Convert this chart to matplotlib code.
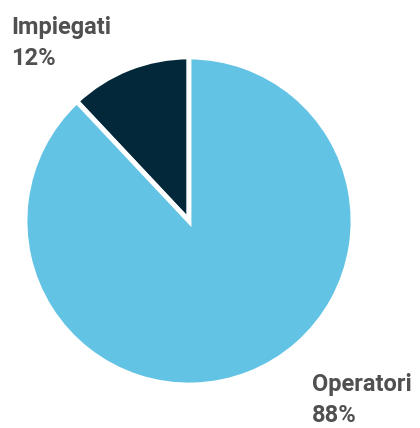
import matplotlib.pyplot as plt

labels = ["Impiegati", "Operatori"]
values = [12, 88]
colors = ["#022839", "#63c3e5"]

fig = plt.figure(figsize=(4.2, 4.28), dpi=100)
ax = fig.add_axes([0, 0, 1, 1])
ax.set_xlim(0, 420)
ax.set_ylim(0, 428)
ax.set_aspect("equal")
ax.axis("off")

ax.pie(values, colors=colors, startangle=90, counterclock=True,
       center=(189, 207), radius=164, explode=[0.075, 0],
       wedgeprops=dict(edgecolor="white", linewidth=3.5))
ax.set_xlim(0, 420)
ax.set_ylim(0, 428)

txt = dict(fontsize=17, fontweight="bold", color="#505050", family="Roboto",
           ha="left", va="top", linespacing=1.42)
ax.text(11, 428 - 16, f"{labels[0]}\n{values[0]}%", **txt)
ax.text(312, 428 - 373, f"{labels[1]}\n{values[1]}%", **txt)

fig.savefig("out.png", dpi=100)
